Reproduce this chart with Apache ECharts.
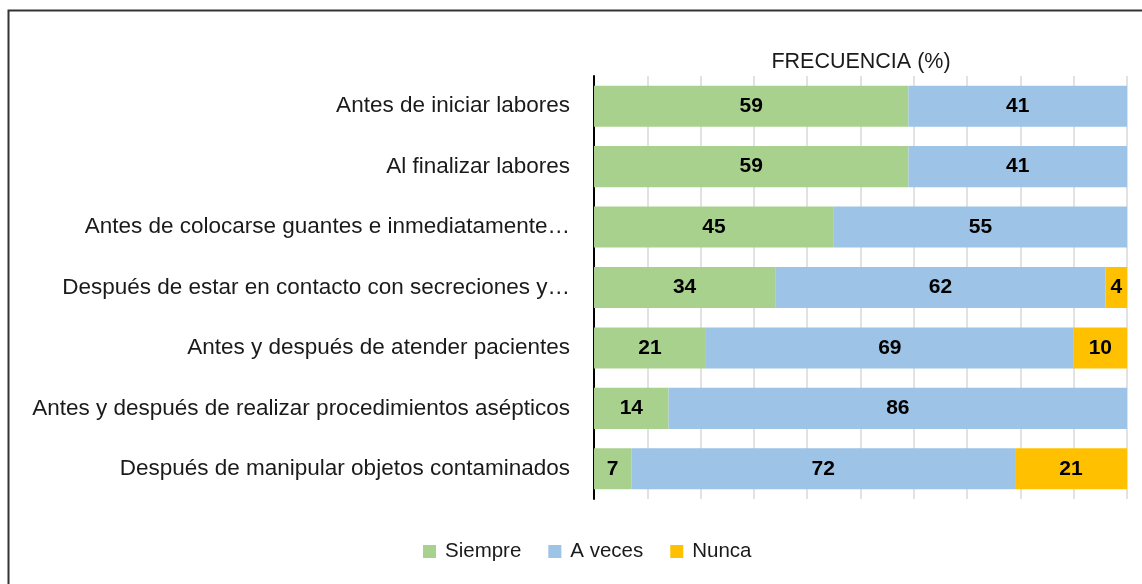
<!DOCTYPE html>
<html><head><meta charset="utf-8">
<script src="https://cdn.jsdelivr.net/npm/echarts@6/dist/echarts.min.js"></script>
<style>html,body{margin:0;padding:0;background:#fff}#c{width:1142px;height:584px}</style>
</head><body><div id="c"></div>
<script>
const categories = [
  "Antes de iniciar labores",
  "Al finalizar labores",
  "Antes de colocarse guantes e inmediatamente…",
  "Después de estar en contacto con secreciones y…",
  "Antes y después de atender pacientes",
  "Antes y después de realizar procedimientos asépticos",
  "Después de manipular objetos contaminados"
];
const siempre = [59, 59, 45, 34, 21, 14, 7];
const aVeces = [41, 41, 55, 62, 69, 86, 72];
const nunca = [0, 0, 0, 4, 10, 0, 21];
const seriesNames = ["Siempre", "A veces", "Nunca"];
const colors = ["#A9D18E", "#9DC3E6", "#FFC000"];
const axisTitle = "FRECUENCIA (%)";

const font = "'Liberation Sans', Arial, sans-serif";
const chart = echarts.init(document.getElementById('c'), null, {renderer: 'canvas'});
const mk = (name, data, i) => ({
  name, type: 'bar', stack: 'total', data,
  barCategoryGap: '32%',
  itemStyle: {color: colors[i]},
  label: {show: true, position: 'inside', color: '#000', fontWeight: 'bold', fontSize: 21,
    fontFamily: font, formatter: p => p.value ? String(p.value) : ''},
  emphasis: {disabled: true}
});
chart.setOption({
  animation: false,
  textStyle: {fontFamily: font},
  title: {text: axisTitle, left: 856, textAlign: 'center', top: 46,
    textStyle: {fontSize: 21.5, fontWeight: 'normal', color: '#1a1a1a', fontFamily: font}},
  grid: {left: 594, right: 15, top: 76, bottom: 85, containLabel: false, outerBoundsMode: 'none'},
  legend: {bottom: 17, left: 418, itemWidth: 13, itemHeight: 13, itemGap: 27,
    icon: 'rect', data: seriesNames,
    textStyle: {fontSize: 20.5, color: '#1a1a1a', fontFamily: font, padding: [0, 0, 0, 4]}},
  xAxis: {type: 'value', min: 0, max: 100, interval: 10,
    axisLabel: {show: false}, axisLine: {show: false}, axisTick: {show: false},
    splitLine: {show: true, lineStyle: {color: '#d9d9d9', width: 1.5}}},
  yAxis: {type: 'category', data: categories, inverse: true,
    axisLine: {show: true, lineStyle: {color: '#000', width: 2}},
    axisTick: {show: false},
    axisLabel: {fontSize: 22.5, color: '#1a1a1a', margin: 24, fontFamily: font}},
  series: [mk(seriesNames[0], siempre, 0), mk(seriesNames[1], aVeces, 1), mk(seriesNames[2], nunca, 2)],
  graphic: [{type: 'rect', shape: {x: 8.5, y: 10.5, width: 1400, height: 800},
    style: {fill: null, stroke: '#333', lineWidth: 2}, silent: true, z: 100}]
});
</script></body></html>
